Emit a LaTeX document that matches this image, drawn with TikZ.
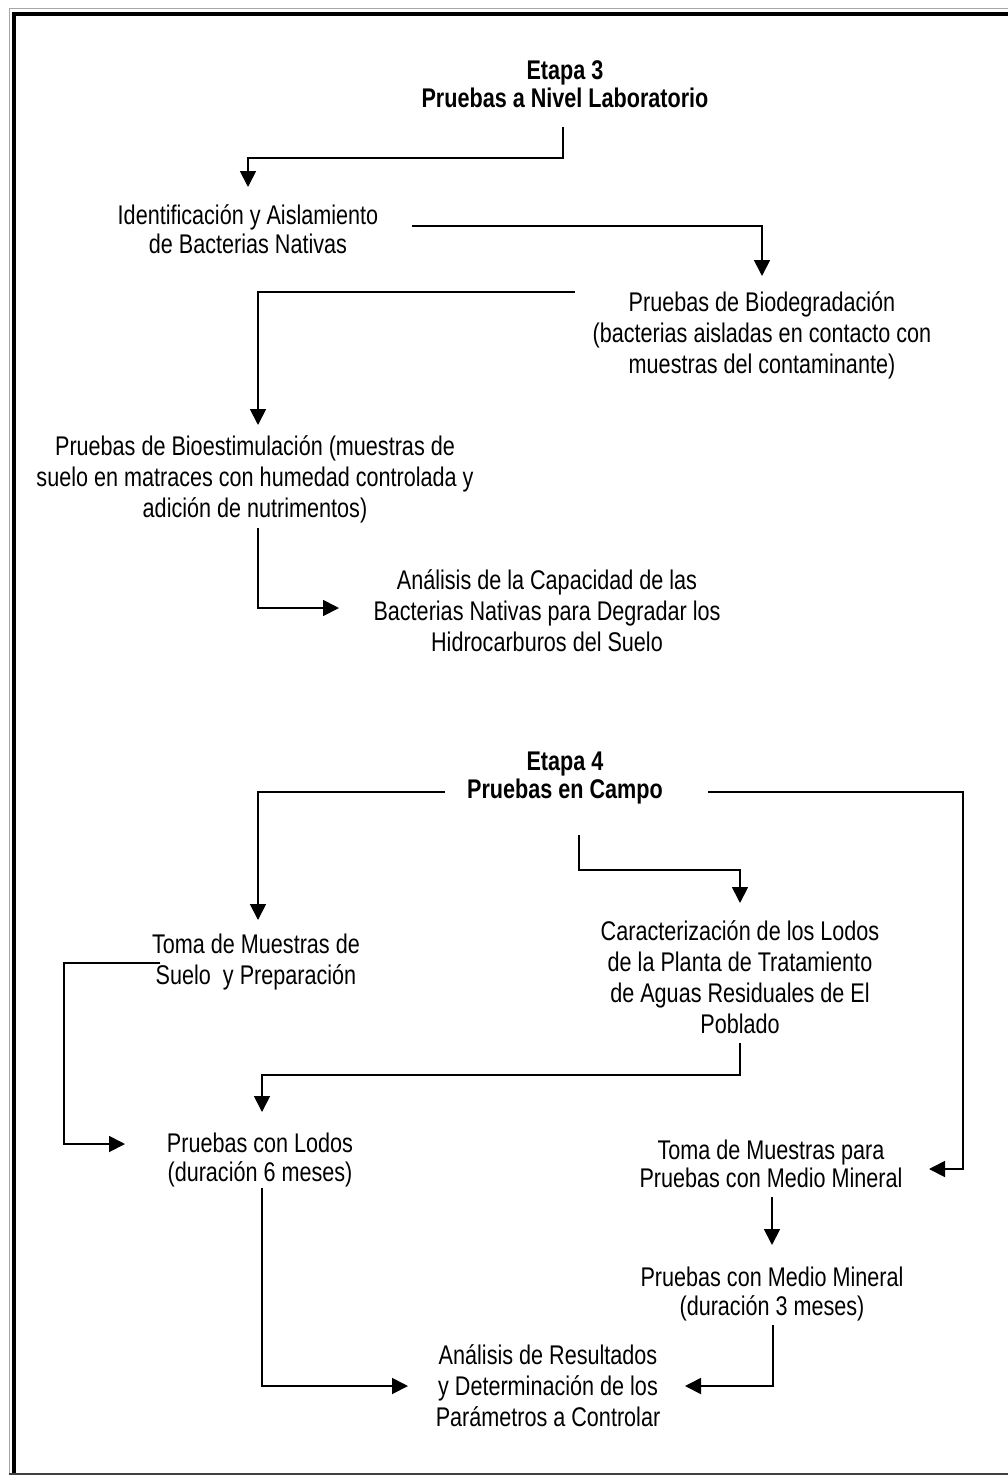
\documentclass[tikz,border=0pt]{standalone}
\usepackage{fontspec}
\setmainfont[FakeStretch=0.8]{Liberation Sans}
\usetikzlibrary{arrows.meta}
\begin{document}
\begin{tikzpicture}[x=1pt,y=-1pt,
  txt/.style={align=center,inner sep=0pt,font=\fontsize{27}{31}\selectfont},
  txtb/.style={align=center,inner sep=0pt,font=\fontsize{27}{28.5}\selectfont},
  hd/.style={align=center,inner sep=0pt,font=\fontsize{27}{28}\selectfont\bfseries},
  arr/.style={line width=1.8pt,-{Triangle[length=16pt,width=16pt]}}]
\useasboundingbox (0,0) rectangle (1008,1475);
\fill[white] (0,0) rectangle (1008,1475);
% frame
\draw[line width=1pt,gray!70] (9,1476) -- (9,8) -- (1010,8);
\draw[line width=4pt] (14,1476) -- (14,13.5) -- (1010,13.5);
\draw[line width=1.5pt,black!75] (9,1474) -- (1010,1474);

% Etapa 3
\node[hd] (e3) at (565,84) {Etapa 3\\Pruebas a Nivel Laboratorio};
\node[txtb] (ida) at (248,229) {Identificación y Aislamiento\\de Bacterias Nativas};
\node[txt] (bio) at (762,335) {Pruebas de Biodegradación\\(bacterias aisladas en contacto con\\muestras del contaminante)};
\node[txt] (best) at (255,479) {Pruebas de Bioestimulación (muestras de\\suelo en matraces con humedad controlada y\\adición de nutrimentos)};
\node[txt] (ana) at (547,611) {Análisis de la Capacidad de las\\Bacterias Nativas para Degradar los\\Hidrocarburos del Suelo};

% Etapa 4
\node[hd] (e4) at (565,778) {Etapa 4\\Pruebas en Campo};
\node[txt] (toma) at (256,962) {Toma de Muestras de\\Suelo\ \ y Preparación};
\node[txt] (car) at (740,977) {Caracterización de los Lodos\\de la Planta de Tratamiento\\de Aguas Residuales de El\\Poblado};
\node[txtb] (lod) at (260,1160) {Pruebas con Lodos\\(duración 6 meses)};
\node[txtb] (tmm) at (771,1164) {Toma de Muestras para\\Pruebas con Medio Mineral};
\node[txtb] (pmm) at (772,1294) {Pruebas con Medio Mineral\\(duración 3 meses)};
\node[txt] (res) at (548,1386) {Análisis de Resultados\\y Determinación de los\\Parámetros a Controlar};

% connector end points
\coordinate (e3s) at (563,127);
\coordinate (idt) at (248,187);
\coordinate (ids) at (412,226);
\coordinate (biot) at (762,276);
\coordinate (bios) at (575,292);
\coordinate (bestt) at (258,425);
\coordinate (bests) at (258,528);
\coordinate (anat) at (339,608);
\coordinate (e4l) at (445,792);
\coordinate (tomt) at (258,920);
\coordinate (e4r) at (708,792);
\coordinate (tmmt) at (929,1169);
\coordinate (e4m) at (579,835);
\coordinate (cart) at (740,903);
\coordinate (toms) at (160,963);
\coordinate (lodt) at (125,1144);
\coordinate (cars) at (740,1043);
\coordinate (lodt2) at (262,1112);
\coordinate (tmms) at (772,1197);
\coordinate (pmmt) at (772,1245);
\coordinate (pmms) at (773,1325);
\coordinate (rest) at (685,1386);
\coordinate (lods) at (262,1188);
\coordinate (resl) at (408,1386);

\draw[arr] (e3s) -- ++(0,31) -| (idt);
\draw[arr] (ids) -| (biot);
\draw[arr] (bios) -| (bestt);
\draw[arr] (bests) |- (anat);
\draw[arr] (e4l) -| (tomt);
\draw[arr] (e4r) -- ++(255,0) |- (tmmt);
\draw[arr] (e4m) -- ++(0,35) -| (cart);
\draw[arr] (toms) -- ++(-96,0) |- (lodt);
\draw[arr] (cars) -- ++(0,32) -| (lodt2);
\draw[arr] (tmms) -- (pmmt);
\draw[arr] (pmms) |- (rest);
\draw[arr] (lods) |- (resl);
\end{tikzpicture}
\end{document}
